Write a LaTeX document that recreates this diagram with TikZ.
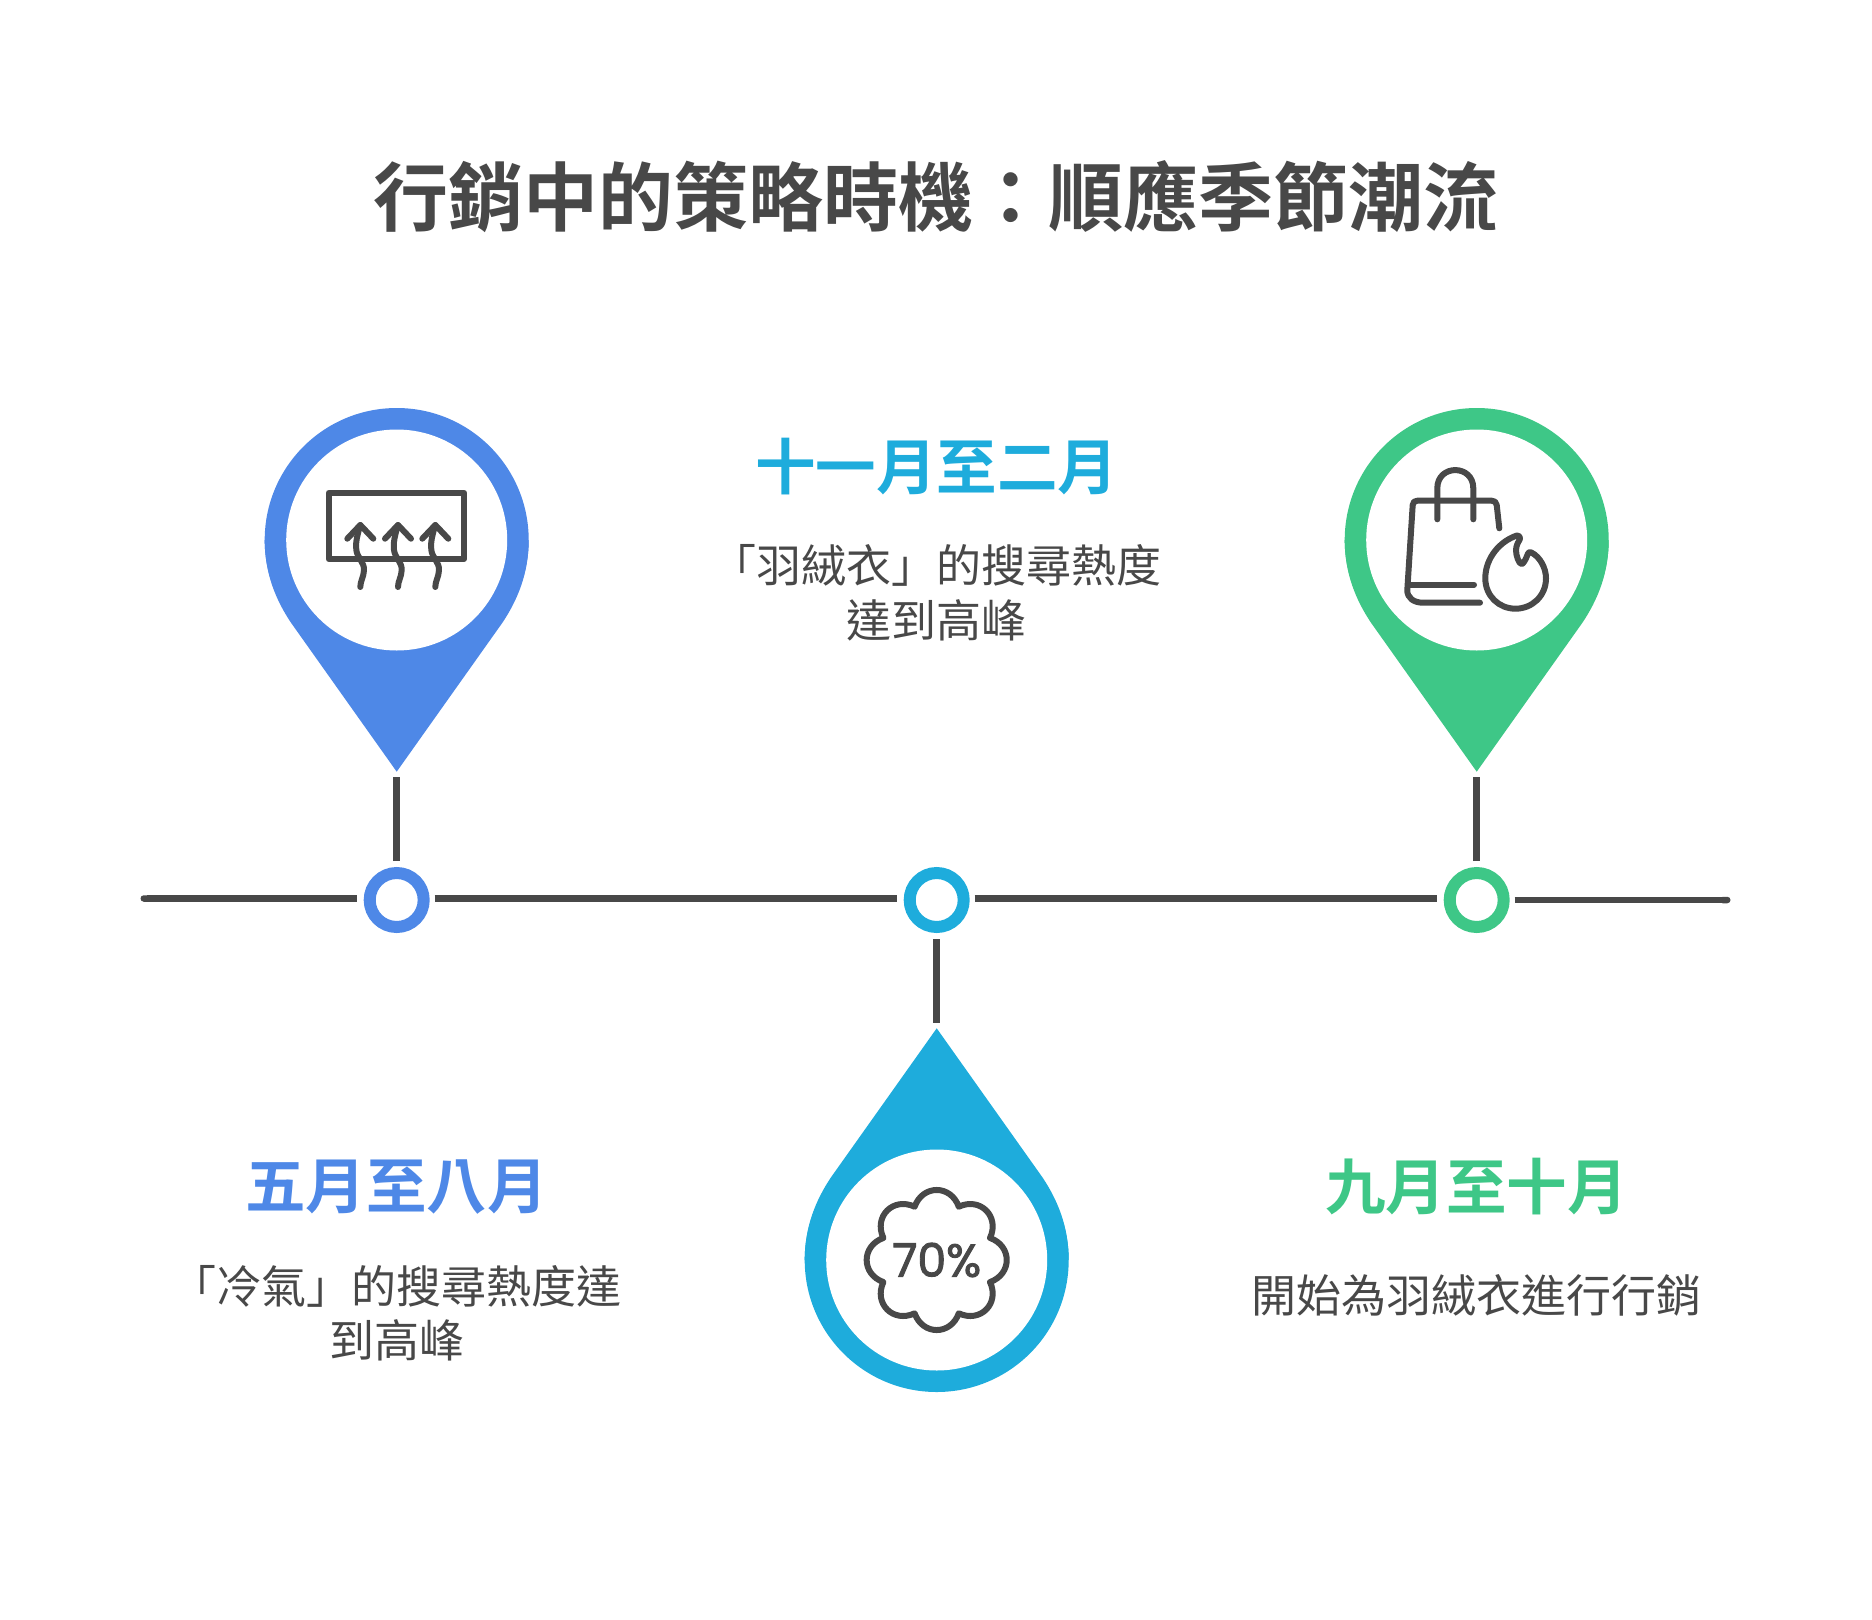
\documentclass[tikz,border=0pt]{standalone}
\usepackage{fontspec}
\usetikzlibrary{arrows.meta}
\newfontfamily\cjk[BoldFont=Noto Sans CJK TC Bold]{Noto Sans CJK TC}
\newfontfamily\iconfont[FakeBold=2]{Poppins}
\definecolor{inkgrey}{HTML}{484848}
\definecolor{pinblue}{HTML}{4E88E7}
\definecolor{pincyan}{HTML}{1EACDC}
\definecolor{pingreen}{HTML}{3EC787}
\tikzset{
  spine/.style={draw=inkgrey,line width=6.5},
  ring/.style={circle,draw=#1,line width=12,inner sep=0,minimum size=54},
  iconline/.style={draw=inkgrey,line width=6,line cap=round,line join=round},
  titletxt/.style={text=inkgrey,font={\cjk\bfseries\fontsize{75}{80}\selectfont}},
  headtxt/.style={text=#1,font={\cjk\bfseries\fontsize{60.5}{64}\selectfont}},
  bodytxt/.style={text=inkgrey,align=center,font={\cjk\fontsize{45}{54.5}\selectfont}}
}
\newcommand{\droppin}[4]{
  \begin{scope}[shift={(#1)},yscale=#2]
    \fill[#3] (0,0) circle[radius=132];
    \fill[#3] (0,231.7) -- (-105.5,83) .. controls (-121,60) and (-132,33) .. (-132,0)
      -- (132,0) .. controls (132,33) and (121,60) .. (105.5,83) -- cycle;
    \fill[white] (0,0) circle[radius=110.5];
    \coordinate (#4) at (0,231.7);
  \end{scope}
}
\begin{document}
\begin{tikzpicture}[x=1pt,y=-1pt]
\useasboundingbox (0,0) rectangle (1872,1620);
\node[titletxt] (title) at (936,197) {行銷中的策略時機\symbol{"FF1A}順應季節潮流};

\droppin{396.7,540}{1}{pinblue}{tipA}
\droppin{936.7,1260}{-1}{pincyan}{tipB}
\droppin{1476.7,540}{1}{pingreen}{tipC}

\node[ring=pinblue] (ringA) at (396.7,900) {};
\node[ring=pincyan] (ringB) at (936.7,900) {};
\node[ring=pingreen] (ringC) at (1476.7,900) {};

\coordinate (lineA) at (140.5,898.5);
\coordinate (lineD) at (1730.5,900);
\draw[spine,{Round Cap[]}-,shorten >=7] (lineA) -- (ringA.west |- lineA);
\draw[spine,shorten <=5,shorten >=7] (ringA.east |- lineA) -- (ringB.west |- lineA);
\draw[spine,shorten <=5,shorten >=7] (ringB.east |- lineA) -- (ringC.west |- lineA);
\draw[spine,-{Round Cap[]},shorten <=5] (ringC.east) -- (lineD);
\draw[spine,shorten <=6,shorten >=5] (ringA) -- (tipA);
\draw[spine,shorten <=6,shorten >=5] (ringB) -- (tipB);
\draw[spine,shorten <=6,shorten >=5] (ringC) -- (tipC);

\draw[iconline] (328.7,492.7) rectangle (464,559);
\foreach \x in {360.3,398,435.3}{
  \begin{scope}[shift={(\x,525)}]
    \draw[iconline] (-13,13.7) -- (0,0) -- (13,13.7);
    \draw[iconline] (0,0) .. controls (-3,10) and (-5,18) .. (-4,25)
      .. controls (-3,33) and (4,37) .. (3.7,45) .. controls (3.5,52) and (0,56) .. (0,62);
  \end{scope}
}

\begin{scope}[shift={(936.7,1260)}]
  \draw[iconline] \foreach \a in {0,45,...,315}{
    ({\a-22.5}:57.7) .. controls ({\a-10.5}:76.9) and ({\a+10.5}:76.9) .. ({\a+22.5}:57.7)};
\end{scope}
\node[text=inkgrey,font={\iconfont\fontsize{46}{50}\selectfont},inner sep=0] (pct) at (936.7,1260) {70\%};

\draw[iconline] (1499.3,528.3) -- (1496.7,505) .. controls (1496.3,502) and (1494.5,500.7) .. (1491.7,500.7)
  -- (1417.3,500.7) .. controls (1414.5,500.7) and (1413,502) .. (1412.7,505) -- (1407.3,590)
  .. controls (1407,598) and (1414,602.7) .. (1423,602.7) -- (1480,602.7);
\draw[iconline] (1409,584.7) -- (1474,584.7);
\draw[iconline] (1437.3,519.3) -- (1437.3,488.3) .. controls (1437.3,464) and (1473.3,464) .. (1473.3,488.3) -- (1473.3,519.3);
\draw[iconline] (1517,535.5) .. controls (1500,541) and (1485.3,558) .. (1485.3,578.3)
  .. controls (1485.3,596) and (1499,608.7) .. (1515.5,608.7)
  .. controls (1532,608.7) and (1546,596) .. (1546,578.3)
  .. controls (1546,568) and (1540,557) .. (1531.7,552.7)
  .. controls (1529,551) and (1528,553) .. (1527,556)
  .. controls (1525.5,560) and (1523,564) .. (1521.7,564)
  .. controls (1519,564) and (1516,556) .. (1516,550)
  .. controls (1516,545) and (1519,541) .. (1520,539)
  .. controls (1520.5,537) and (1519,535) .. (1517,535.5) -- cycle;

\node[headtxt=pincyan] (headB) at (936.7,467) {十一月至二月};
\node[bodytxt] (bodyB) at (936.7,593) {「羽絨衣」的搜尋熱度\\達到高峰};
\node[headtxt=pinblue] (headA) at (396.7,1187) {五月至八月};
\node[bodytxt] (bodyA) at (396.7,1313) {「冷氣」的搜尋熱度達\\到高峰};
\node[headtxt=pingreen] (headC) at (1476.7,1187) {九月至十月};
\node[bodytxt] (bodyC) at (1476.7,1296) {開始為羽絨衣進行行銷};
\end{tikzpicture}
\end{document}
